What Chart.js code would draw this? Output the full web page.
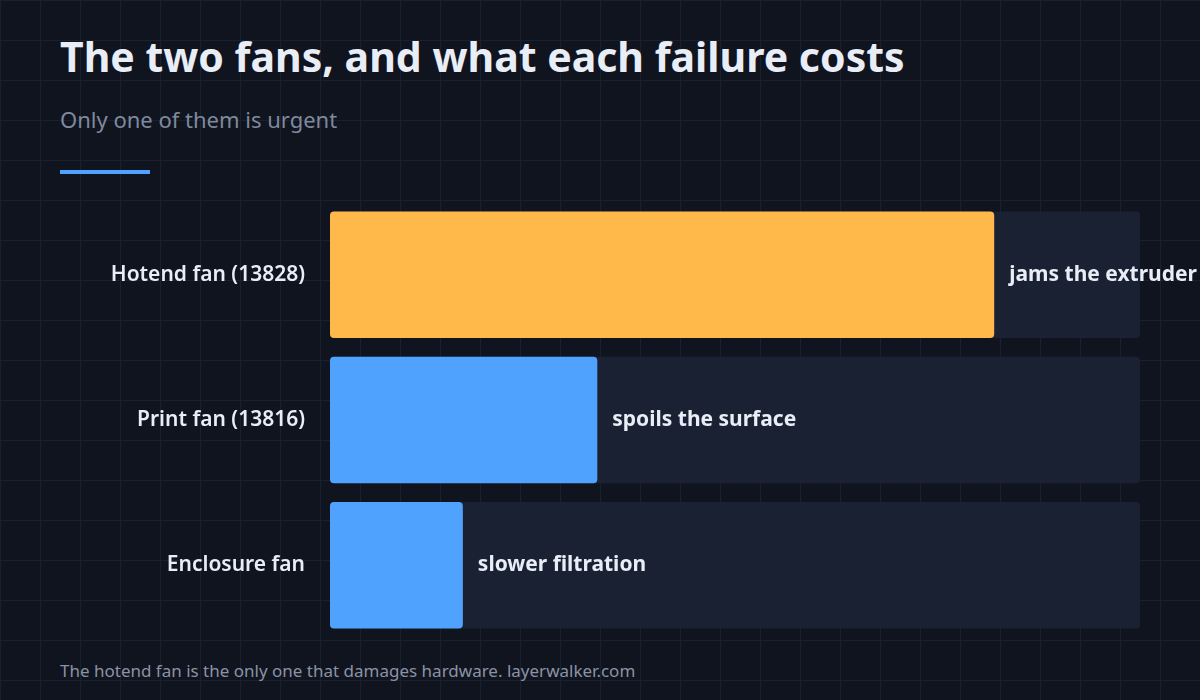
<!DOCTYPE html>
<html lang="en">
<head>
<meta charset="UTF-8">
<title>The two fans</title>
<script src="https://cdn.jsdelivr.net/npm/chart.js"></script>
<style>
  html, body { margin: 0; padding: 0; width: 1200px; height: 700px; overflow: hidden; }
  body {
    font-family: 'Noto Sans', 'Open Sans', sans-serif;
    background-color: #10141f;
    background-image:
      linear-gradient(to right, #1a2030 1px, transparent 1px),
      linear-gradient(to bottom, #1a2030 1px, transparent 1px);
    background-size: 40px 40px;
    background-position: 0 0;
    position: relative;
  }
  h1 { position: absolute; left: 60px; top: 28px; margin: 0; font-size: 41px; font-weight: 700; color: #e8edf6; }
  .sub { position: absolute; left: 60px; top: 104px; font-size: 22px; color: #7f899c; }
  .accent { position: absolute; left: 60px; top: 170px; width: 90px; height: 4px; background: #4fa3ff; }
  .foot { position: absolute; left: 60px; top: 659px; font-size: 17px; color: #8a93a5; }
  #chart { position: absolute; left: 0; top: 0; }
</style>
</head>
<body>
<h1>The two fans, and what each failure costs</h1>
<div class="sub">Only one of them is urgent</div>
<div class="accent"></div>
<div class="foot">The hotend fan is the only one that damages hardware. layerwalker.com</div>
<canvas id="chart" width="1200" height="700"></canvas>
<script>
  const categories = ['Hotend fan (13828)', 'Print fan (13816)', 'Enclosure fan'];
  const severity = [82, 33, 16.4];
  const track = [100, 100, 100];
  const outcomes = ['jams the extruder', 'spoils the surface', 'slower filtration'];
  const barColors = ['#ffb84a', '#4fa3ff', '#4fa3ff'];

  const labelPlugin = {
    id: 'labels',
    afterDatasetsDraw(chart) {
      const ctx = chart.ctx;
      const meta = chart.getDatasetMeta(0);
      ctx.save();
      ctx.textBaseline = 'middle';
      meta.data.forEach((bar, i) => {
        ctx.font = '600 21px "Noto Sans", "Open Sans", sans-serif';
        ctx.fillStyle = '#e8edf6';
        ctx.textAlign = 'right';
        ctx.fillText(categories[i], 305, bar.y);
        ctx.font = '700 21px "Noto Sans", "Open Sans", sans-serif';
        ctx.textAlign = 'left';
        ctx.fillText(outcomes[i], bar.x + 15, bar.y);
      });
      ctx.restore();
    }
  };

  new Chart(document.getElementById('chart'), {
    type: 'bar',
    data: {
      labels: categories,
      datasets: [
        { data: severity, backgroundColor: barColors, borderRadius: 4, borderSkipped: false, order: 0 },
        { data: track, backgroundColor: '#1a2133', borderRadius: 4, borderSkipped: false, order: 1 }
      ]
    },
    options: {
      indexAxis: 'y',
      responsive: false,
      animation: false,
      layout: { padding: { left: 330, right: 60, top: 202, bottom: 62 } },
      datasets: { bar: { grouped: false, categoryPercentage: 1, barPercentage: 0.87 } },
      plugins: { legend: { display: false }, tooltip: { enabled: false } },
      scales: {
        x: { display: false, min: 0, max: 100 },
        y: { display: false }
      }
    },
    plugins: [labelPlugin]
  });
</script>
</body>
</html>
